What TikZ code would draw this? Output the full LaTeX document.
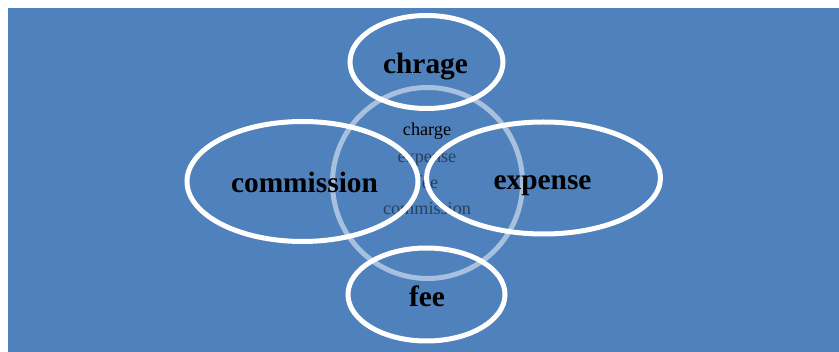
\documentclass[tikz,border=0pt]{standalone}
\usepackage{fontspec}
\setmainfont{Liberation Serif}
\usetikzlibrary{shapes.geometric}
\definecolor{bgblue}{RGB}{79,129,189}
\tikzset{
  ring/.style={draw=white, line width=5pt, ellipse, inner sep=0pt, outer sep=0pt},
  bigtxt/.style={anchor=base, inner sep=0pt, font=\fontsize{29.4}{29.4}\selectfont\bfseries},
  smalltxt/.style={anchor=base, inner sep=0pt, font=\fontsize{18.2}{18.2}\selectfont},
}
\begin{document}
\begin{tikzpicture}[x=1pt,y=-1pt]
\useasboundingbox (0,0) rectangle (839,352);
\fill[bgblue] (8,8) rectangle (839,352);
% central circle
\node[ring, draw opacity=0.5, minimum width=190pt, minimum height=191pt] (core) at (427.5,183) {};
\node[smalltxt] (t1) at (427,135.5) {charge};
\node[smalltxt, text opacity=0.5] (t2) at (427,162.5) {expense};
\node[smalltxt, text opacity=0.5] (t3) at (427,189) {fee};
\node[smalltxt, text opacity=0.5] (t4) at (427,215) {commission};
% outer ellipses
\node[ring, minimum width=153pt, minimum height=93pt] (e1) at (426.5,62) {};
\node[ring, minimum width=231pt, minimum height=120pt] (e2) at (302.5,181.5) {};
\node[ring, minimum width=234pt, minimum height=112pt] (e3) at (543.5,178) {};
\node[ring, minimum width=157pt, minimum height=93pt] (e4) at (426.5,294.5) {};
% labels
\node[bigtxt] (l1) at (425.5,74) {chrage};
\node[bigtxt] (l2) at (304.5,193) {commission};
\node[bigtxt] (l3) at (542.5,190) {expense};
\node[bigtxt] (l4) at (427,307) {fee};
\end{tikzpicture}
\end{document}
